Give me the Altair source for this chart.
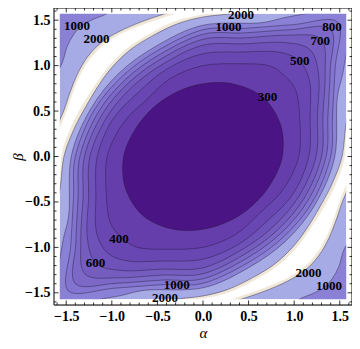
import altair as alt
import pandas as pd

LIM = 1.634      # frame range (both axes)
EDGE = 1.5708    # extent of the plotted data square

# ---- tick values -------------------------------------------------------
major_ticks = [-1.5, -1.0, -0.5, 0.0, 0.5, 1.0, 1.5]
minor_ticks = [-1.6, -1.4, -1.3, -1.2, -1.1, -0.9, -0.8, -0.7, -0.6, -0.4, -0.3, -0.2, -0.1,
               0.1, 0.2, 0.3, 0.4, 0.6, 0.7, 0.8, 0.9, 1.1, 1.2, 1.3, 1.4, 1.6]

# ---- contour levels of the central basin (alpha, beta) ----
c300 = [(0.87, 0.0), (0.85, 0.352), (0.654, 0.654), (0.331, 0.799), (0.0, 0.80), (-0.293, 0.707),
        (-0.541, 0.541), (-0.739, 0.306), (-0.87, 0.0), (-0.85, -0.352), (-0.654, -0.654),
        (-0.331, -0.799), (0.0, -0.80), (0.293, -0.707), (0.541, -0.541), (0.739, -0.306)]
c400 = [(1.05, 0.0), (1.06, 0.42), (1.02, 0.72), (0.891, 0.891), (0.72, 1.0), (0.42, 1.02), (0.0, 1.0),
        (-0.356, 0.859), (-0.622, 0.622), (-0.878, 0.364), (-1.05, 0.0), (-1.06, -0.42), (-1.02, -0.72),
        (-0.891, -0.891), (-0.72, -1.0), (-0.42, -1.02), (0.0, -1.0), (0.356, -0.859), (0.622, -0.622),
        (0.878, -0.364)]
c500 = [(1.16, 0.0), (1.175, 0.45), (1.17, 0.82), (1.054, 1.054), (0.82, 1.15), (0.45, 1.15), (0.0, 1.13),
        (-0.398, 0.961), (-0.707, 0.707), (-0.989, 0.409), (-1.16, 0.0), (-1.175, -0.45), (-1.17, -0.82),
        (-1.054, -1.054), (-0.82, -1.15), (-0.45, -1.15), (0.0, -1.13), (0.398, -0.961), (0.707, -0.707),
        (0.989, -0.409)]
c600 = [(1.24, 0.0), (1.255, 0.45), (1.27, 0.88), (1.174, 1.174), (0.88, 1.255), (0.45, 1.24), (0.0, 1.225),
        (-0.425, 1.026), (-0.771, 0.771), (-1.053, 0.436), (-1.24, 0.0), (-1.255, -0.45), (-1.27, -0.88),
        (-1.174, -1.174), (-0.88, -1.255), (-0.45, -1.24), (0.0, -1.225), (0.425, -1.026), (0.771, -0.771),
        (1.053, -0.436)]
c700 = [(1.30, 0.0), (1.315, 0.45), (1.34, 0.92), (1.294, 1.294), (0.92, 1.335), (0.45, 1.305), (0.0, 1.29),
        (-0.448, 1.081), (-0.813, 0.813), (-1.109, 0.459), (-1.30, 0.0), (-1.315, -0.45), (-1.34, -0.92),
        (-1.294, -1.294), (-0.92, -1.335), (-0.45, -1.305), (0.0, -1.29), (0.448, -1.081), (0.813, -0.813),
        (1.109, -0.459)]
c800 = [(1.35, 0.0), (1.37, 0.45), (1.395, 0.95), (1.40, 1.40), (0.95, 1.395), (0.45, 1.36), (0.0, 1.345),
        (-0.467, 1.127), (-0.849, 0.849), (-1.155, 0.478), (-1.35, 0.0), (-1.37, -0.45), (-1.395, -0.95),
        (-1.40, -1.40), (-0.95, -1.395), (-0.45, -1.36), (0.0, -1.345), (0.467, -1.127), (0.849, -0.849),
        (1.155, -0.478)]
c900 = [(1.40, 0.0), (1.42, 0.45), (1.45, 0.98), (1.478, 1.478), (0.98, 1.45), (0.45, 1.41), (0.0, 1.395),
        (-0.486, 1.173), (-0.884, 0.884), (-1.201, 0.498), (-1.40, 0.0), (-1.42, -0.45), (-1.45, -0.98),
        (-1.478, -1.478), (-0.98, -1.45), (-0.45, -1.41), (0.0, -1.395), (0.486, -1.173), (0.884, -0.884),
        (1.201, -0.498)]
c1000 = [(1.445, 0.0), (1.469, 0.608), (1.53, 0.9), (1.60, 1.25), (1.75, 1.75), (1.25, 1.60), (0.9, 1.53),
         (0.608, 1.469), (0.0, 1.445), (-0.505, 1.22), (-0.919, 0.919), (-1.238, 0.513),
         (-1.445, 0.0), (-1.469, -0.608), (-1.53, -0.9), (-1.60, -1.25), (-1.75, -1.75), (-1.25, -1.60),
         (-0.9, -1.53), (-0.608, -1.469), (0.0, -1.445), (0.505, -1.22), (0.919, -0.919), (1.238, -0.513)]

# ---- upper-left high band: basin-side 2000 line, then corner-side 2000 line ----
ul_band_basin = [(-1.72, -0.80), (-1.63, -0.55), (-1.57, -0.36), (-1.525, 0.0), (-1.42, 0.29), (-1.29, 0.54),
                 (-1.14, 0.79), (-0.99, 0.99), (-0.79, 1.18), (-0.55, 1.33), (-0.28, 1.46), (0.0, 1.535),
                 (0.33, 1.575), (0.60, 1.64), (0.80, 1.72)]
ul_band_corner = [(-0.05, 1.72), (-0.22, 1.64), (-0.42, 1.57), (-0.68, 1.48), (-0.93, 1.37), (-1.12, 1.25),
                  (-1.27, 1.09), (-1.38, 0.90), (-1.46, 0.70), (-1.52, 0.52), (-1.57, 0.40), (-1.64, 0.22),
                  (-1.72, 0.05)]
ul_clip_basin = [(-1.72, -0.75), (-1.63, -0.51), (-1.575, -0.33), (-1.55, 0.03), (-1.45, 0.32), (-1.32, 0.57),
                 (-1.165, 0.815), (-1.015, 1.015), (-0.815, 1.205), (-0.57, 1.36), (-0.30, 1.49),
                 (-0.02, 1.56), (0.30, 1.60), (0.58, 1.67), (0.78, 1.75)]
ul_clip_corner = [(-0.03, 1.69), (-0.20, 1.61), (-0.40, 1.54), (-0.66, 1.45), (-0.91, 1.345), (-1.095, 1.225),
                  (-1.245, 1.065), (-1.355, 0.88), (-1.435, 0.68), (-1.495, 0.50), (-1.545, 0.375),
                  (-1.615, 0.20), (-1.70, 0.03)]
ul_corner_1000 = [(-0.90, 1.75), (-0.98, 1.66), (-1.06, 1.57), (-1.20, 1.51), (-1.33, 1.44), (-1.42, 1.34),
                  (-1.49, 1.21), (-1.53, 1.07), (-1.57, 0.98), (-1.66, 0.88), (-1.75, 0.80), (-1.80, 1.80)]

# ---- lower-right high band ---------------------------------------------
lr_band_basin = [(1.72, 0.80), (1.63, 0.55), (1.57, 0.36), (1.525, 0.0), (1.42, -0.29), (1.29, -0.54),
                 (1.14, -0.79), (0.99, -0.99), (0.79, -1.18), (0.55, -1.33), (0.28, -1.46), (0.0, -1.535),
                 (-0.33, -1.575), (-0.60, -1.64), (-0.80, -1.72)]
lr_band_corner = [(0.05, -1.72), (0.22, -1.64), (0.42, -1.57), (0.68, -1.48), (0.93, -1.37), (1.12, -1.25),
                  (1.27, -1.09), (1.38, -0.90), (1.46, -0.70), (1.52, -0.52), (1.57, -0.40), (1.64, -0.22),
                  (1.72, -0.05)]
lr_clip_basin = [(1.72, 0.75), (1.63, 0.51), (1.575, 0.33), (1.55, -0.03), (1.45, -0.32), (1.32, -0.57),
                 (1.165, -0.815), (1.015, -1.015), (0.815, -1.205), (0.57, -1.36), (0.30, -1.49),
                 (0.02, -1.56), (-0.30, -1.60), (-0.58, -1.67), (-0.78, -1.75)]
lr_clip_corner = [(0.03, -1.69), (0.20, -1.61), (0.40, -1.54), (0.66, -1.45), (0.91, -1.345), (1.095, -1.225),
                  (1.245, -1.065), (1.355, -0.88), (1.435, -0.68), (1.495, -0.50), (1.545, -0.375),
                  (1.615, -0.20), (1.70, -0.03)]
lr_corner_1000 = [(0.90, -1.75), (0.98, -1.66), (1.06, -1.57), (1.20, -1.51), (1.33, -1.44), (1.42, -1.34),
                  (1.49, -1.21), (1.53, -1.07), (1.57, -0.98), (1.66, -0.88), (1.75, -0.80), (1.80, -1.80)]

# ---- contour labels ------------------------------------------------------
label_text = ["1000", "2000", "2000", "1000", "800", "700", "500", "300",
              "400", "600", "1000", "2000", "2000", "1000"]
label_alpha = [-1.383, -1.168, 0.418, 0.279, 1.415, 1.285, 1.061, 0.707,
               -0.922, -1.179, -0.289, -0.418, 1.158, 1.383]
label_beta = [1.44, 1.29, 1.56, 1.42, 1.425, 1.275, 1.054, 0.656,
              -0.903, -1.172, -1.409, -1.559, -1.28, -1.43]

# ---- colours -------------------------------------------------------------
C_CLIP = "#ffffff"
C_TOP = "#efe7d8"
C_1000_2000 = "#a6aae5"
fills = {1000: "#8a80d6", 900: "#8274cf", 800: "#7b68c7", 700: "#755dc0",
         600: "#6e51b9", 500: "#6947b2", 400: "#653eab", 300: "#4b1484"}
LINE = "#1d1530"
SERIF = "Liberation Serif"

W, H = 298, 297
XS = alt.Scale(domain=[-LIM, LIM], nice=False, zero=False)
YS = alt.Scale(domain=[-LIM, LIM], nice=False, zero=False)
XA = alt.Axis(values=major_ticks, format=".1f", ticks=False, domain=False, grid=False,
              labelFont=SERIF, labelFontSize=14, labelFontWeight="bold", labelColor="black",
              labelPadding=4, labelFlush=False, labelOverlap=False,
              title="α", titleFont=SERIF, titleFontSize=15, titleFontStyle="italic",
              titleFontWeight="normal", titleColor="black", titleY=32, titleBaseline="alphabetic")
YA = alt.Axis(values=major_ticks, format=".1f", ticks=False, domain=False, grid=False,
              labelFont=SERIF, labelFontSize=14, labelFontWeight="bold", labelColor="black",
              labelPadding=4, labelFlush=False, labelOverlap=False,
              title="β", titleFont=SERIF, titleFontSize=15, titleFontStyle="italic",
              titleFontWeight="normal", titleColor="black", titleX=-37, titleY=H / 2,
              titleBaseline="middle")


def X(f):
    return alt.X(f, scale=XS, axis=XA)


def Y(f):
    return alt.Y(f, scale=YS, axis=YA)


def pts_df(pts):
    return pd.DataFrame({"a": [p[0] for p in pts], "b": [p[1] for p in pts],
                         "i": list(range(len(pts)))})


def poly(pts, fill, line=True, closed=True):
    props = dict(interpolate="cardinal-closed" if closed else "cardinal", fill=fill, clip=True)
    if line:
        props.update(stroke=LINE, strokeWidth=0.8, strokeOpacity=0.5)
    else:
        props.update(stroke=fill, strokeWidth=0, strokeOpacity=0)
    return alt.Chart(pts_df(pts)).mark_line(**props).encode(
        x=X("a:Q"), y=Y("b:Q"), order=alt.Order("i:Q"))


layers = []

# base square (1000-2000 band colour)
base_df = pd.DataFrame({"x1": [-EDGE], "x2": [EDGE], "y1": [-EDGE], "y2": [EDGE]})
layers.append(alt.Chart(base_df).mark_rect(fill=C_1000_2000).encode(
    x=X("x1:Q"), x2="x2:Q", y=Y("y1:Q"), y2="y2:Q"))

# high bands (beige strip edges) then the clipped (white) cores
layers.append(poly(ul_band_basin + ul_band_corner, C_TOP, line=True, closed=False))
layers.append(poly(lr_band_basin + lr_band_corner, C_TOP, line=True, closed=False))
layers.append(poly(ul_clip_basin + ul_clip_corner, C_CLIP, line=False, closed=False))
layers.append(poly(lr_clip_basin + lr_clip_corner, C_CLIP, line=False, closed=False))
# corners beyond the bands
layers.append(poly(ul_corner_1000, fills[1000], line=True, closed=False))
layers.append(poly(lr_corner_1000, fills[1000], line=True, closed=False))
# basin contours, outermost first
for lvl, pts in [(1000, c1000), (900, c900), (800, c800), (700, c700),
                 (600, c600), (500, c500), (400, c400), (300, c300)]:
    layers.append(poly(pts, fills[lvl], True, True))

# white margins between the data square and the frame
marg = pd.DataFrame({
    "x1": [-LIM, EDGE, -LIM, -LIM],
    "x2": [-EDGE, LIM, LIM, LIM],
    "y1": [-LIM, -LIM, EDGE, -LIM],
    "y2": [LIM, LIM, LIM, -EDGE],
})
layers.append(alt.Chart(marg).mark_rect(fill="white", clip=True).encode(
    x=X("x1:Q"), x2="x2:Q", y=Y("y1:Q"), y2="y2:Q"))

# contour labels
lab = pd.DataFrame({"a": label_alpha, "b": label_beta, "t": label_text})
layers.append(alt.Chart(lab).mark_text(font=SERIF, fontSize=13, fontWeight="bold",
                                       color="black", align="center", baseline="middle").encode(
    x=X("a:Q"), y=Y("b:Q"), text="t:N"))

# frame ticks (pointing inwards on all four sides)
for vals, ln in [(major_ticks, 4.5), (minor_ticks, 2.5)]:
    tdf = pd.DataFrame({"t": vals})
    layers.append(alt.Chart(tdf).mark_rule(color="black", strokeWidth=0.8).encode(
        x=X("t:Q"), y=alt.value(H), y2=alt.value(H - ln)))
    layers.append(alt.Chart(tdf).mark_rule(color="black", strokeWidth=0.8).encode(
        x=X("t:Q"), y=alt.value(0), y2=alt.value(ln)))
    layers.append(alt.Chart(tdf).mark_rule(color="black", strokeWidth=0.8).encode(
        y=Y("t:Q"), x=alt.value(0), x2=alt.value(ln)))
    layers.append(alt.Chart(tdf).mark_rule(color="black", strokeWidth=0.8).encode(
        y=Y("t:Q"), x=alt.value(W), x2=alt.value(W - ln)))

# frame
frame_df = pd.DataFrame({"k": [0]})
layers.append(alt.Chart(frame_df).mark_rect(fillOpacity=0, stroke="black", strokeWidth=1).encode(
    x=alt.value(0), x2=alt.value(W), y=alt.value(0), y2=alt.value(H)))

chart = alt.layer(*layers).properties(
    width=W, height=H,
    padding={"left": 46, "top": 0, "right": 0, "bottom": 36},
    autosize=alt.AutoSizeParams(type="none"),
).configure_view(strokeWidth=0).configure(background="white")

chart.save("out.html", embed_options={"renderer": "svg", "actions": False})
